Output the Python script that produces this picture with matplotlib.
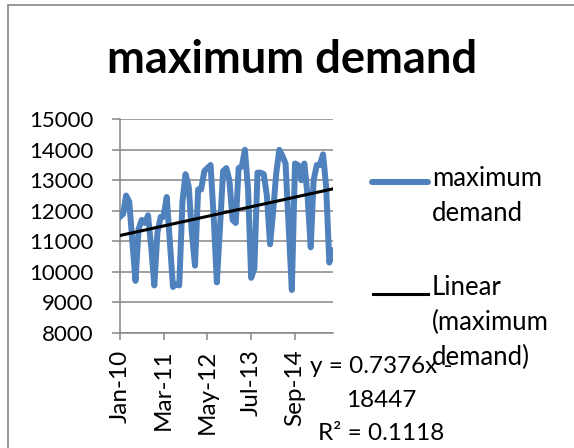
import numpy as np
import pandas as pd
import matplotlib
matplotlib.use("Agg")
import matplotlib.pyplot as plt
import matplotlib.dates as mdates
from matplotlib.lines import Line2D
from matplotlib.patches import Rectangle

plt.rcParams["font.family"] = ["Lato", "DejaVu Sans"]

# monthly maximum demand, Jan 2010 .. Sep 2015
START = "2010-01-01"
demand = [
    11800, 11900, 12500, 12300, 11000, 9700, 11400, 11700, 11600, 11850,
    10800, 9550, 11300, 11800, 11800, 12450, 11000, 9500, 9600, 9550,
    12300, 13200, 12800, 11300, 10200, 12700, 12700, 13300, 13400, 13500,
    11800, 9650, 11500, 13300, 13400, 13000, 11700, 11600, 13400, 13450,
    14000, 12700, 9800, 10100, 13250, 13250, 13200, 12500, 10900, 12000,
    13200, 14000, 13800, 13550, 11500, 9400, 13550, 13500, 13000, 13550,
    12500, 10800, 13000, 13500, 13500, 13850, 12800, 10300, 10700,
]
trend_slope = 0.7376       # Excel trendline: y = 0.7376x - 18447 (x = date serial)
trend_intercept = -18447
trend_r2 = 0.1118
tick_dates = ["2010-01-01", "2011-03-01", "2012-05-01", "2013-07-01", "2014-09-01"]
y_ticks = list(range(8000, 15001, 1000))

dates = pd.date_range(START, periods=len(demand), freq="MS")
serial = (dates - pd.Timestamp("1899-12-30")).days.values
trend = trend_slope * serial + trend_intercept

GRID = "#868686"
BLUE = "#4F81BD"

fig = plt.figure(figsize=(5.74, 4.48), dpi=100)
fig.add_artist(Rectangle((8 / 574, -0.1), 1.2, 1 - 5 / 448 + 0.1, transform=fig.transFigure,
                         fill=False, edgecolor=GRID, linewidth=1.2))

ax = fig.add_axes([120 / 574, 1 - 332.7 / 448, 212.5 / 574, 213.4 / 448])
ax.plot(dates, demand, color=BLUE, linewidth=4.3, solid_joinstyle="round", zorder=3)
ax.plot(dates, trend, color="black", linewidth=2.2, zorder=4)

ax.set_xlim(dates[0], dates[-1])
ax.set_ylim(8000, 15000)
ax.set_yticks(y_ticks)
ax.set_xticks(pd.to_datetime(tick_dates))
ax.xaxis.set_major_formatter(mdates.DateFormatter("%b-%y"))
ax.grid(axis="y", color=GRID, linewidth=1.1)
ax.set_axisbelow(True)
for s in ["top", "right"]:
    ax.spines[s].set_visible(False)
for s in ["left", "bottom"]:
    ax.spines[s].set_color(GRID)
    ax.spines[s].set_linewidth(1.1)
ax.tick_params(axis="y", direction="out", length=6, width=1.1, color=GRID, pad=13,
               labelsize=16)
ax.tick_params(axis="x", direction="out", length=5, width=1.1, color=GRID, pad=7,
               labelsize=17.5, labelrotation=90)

fig.text(292.5 / 574, 1 - 60 / 448, "maximum demand", ha="center", va="center",
         fontsize=32.7, fontweight="bold")

# legend drawn by hand so the key sits on the first text line
fig.add_artist(Line2D([372 / 574, 428 / 574], [1 - 182 / 448] * 2, color=BLUE,
                      linewidth=4.3, solid_capstyle="round", transform=fig.transFigure))
fig.add_artist(Line2D([373 / 574, 428 / 574], [1 - 294 / 448] * 2, color="black",
                      linewidth=2.2, transform=fig.transFigure))
fig.text(432 / 574, 1 - 220.7 / 448, "maximum\ndemand", ha="left", va="baseline",
         fontsize=18.5, linespacing=1.47)
fig.text(432 / 574, 1 - 365 / 448, "Linear\n(maximum\ndemand)", ha="left", va="baseline",
         fontsize=18.5, linespacing=1.5)

fig.text(381 / 574, 1 - 440 / 448,
         f"y = {trend_slope}x -\n{abs(trend_intercept)}\nR² = {trend_r2}",
         ha="center", va="baseline", fontsize=17.5, linespacing=1.73)

fig.savefig("out.png", dpi=100)
